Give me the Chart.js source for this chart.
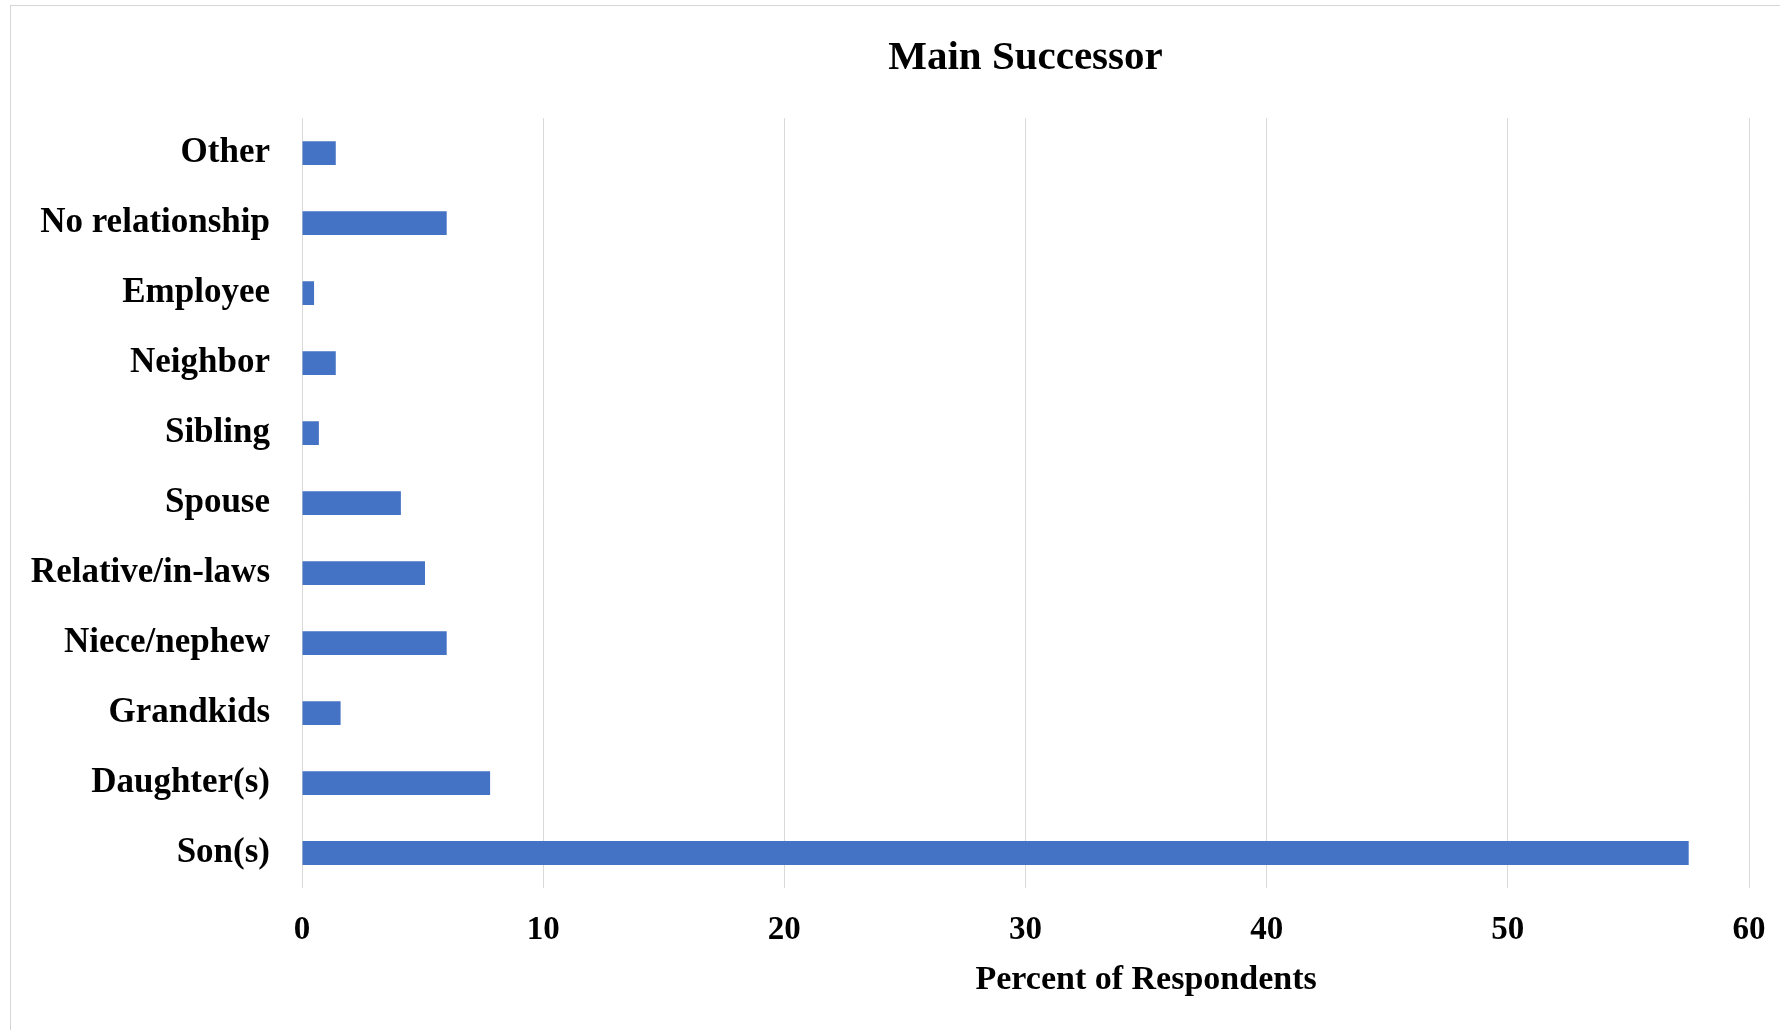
<!DOCTYPE html>
<html>
<head>
<meta charset="utf-8">
<title>Main Successor</title>
<script src="https://cdn.jsdelivr.net/npm/chart.js@4/dist/chart.umd.min.js"></script>
<style>
  html, body { margin: 0; padding: 0; background: #ffffff; overflow: hidden; }
  #wrap { position: relative; width: 1780px; height: 1030px; }
  #frame {
    position: absolute; left: 10px; top: 5px; width: 1800px; height: 1100px;
    border-top: 1px solid #d6d6d6; border-left: 1px solid #d6d6d6;
    pointer-events: none;
  }
  canvas { position: absolute; left: 0; top: 0; }
</style>
</head>
<body>
<div id="wrap">
  <canvas id="chart" width="1780" height="1030"></canvas>
  <div id="frame"></div>
</div>
<script>
// Successor categories, listed bottom to top as they appear on the axis
const categories = [
  'Son(s)', 'Daughter(s)', 'Grandkids', 'Niece/nephew', 'Relative/in-laws',
  'Spouse', 'Sibling', 'Neighbor', 'Employee', 'No relationship', 'Other'
];

// Percent of respondents naming each successor
const percentValues = [57.5, 7.8, 1.6, 6.0, 5.1, 4.1, 0.7, 1.4, 0.5, 6.0, 1.4];

// Value axis ticks
const axisTicks = [0, 10, 20, 30, 40, 50, 60];

const chartTitle = 'Main Successor';
const valueAxisTitle = 'Percent of Respondents';

const SERIF = '"Liberation Serif", "Times New Roman", Times, serif';
const BAR_BLUE = '#4472C4';
const GRID_GREY = '#d9d9d9';

// Axis title under the value axis, centred around the 35 mark
const valueAxisTitlePlugin = {
  id: 'valueAxisTitle',
  afterDraw(chart) {
    const x = chart.scales.x;
    const ctx = chart.ctx;
    ctx.save();
    ctx.font = 'bold 34px ' + SERIF;
    ctx.fillStyle = '#000000';
    ctx.textAlign = 'center';
    ctx.textBaseline = 'middle';
    ctx.fillText(valueAxisTitle, x.getPixelForValue(35), chart.chartArea.bottom + 92);
    ctx.restore();
  }
};

new Chart(document.getElementById('chart'), {
  type: 'bar',
  data: {
    labels: categories,
    datasets: [{
      data: percentValues,
      backgroundColor: BAR_BLUE,
      borderWidth: 0,
      barPercentage: 0.34,
      categoryPercentage: 1.0
    }]
  },
  plugins: [valueAxisTitlePlugin],
  options: {
    indexAxis: 'y',
    responsive: false,
    animation: false,
    layout: { padding: { left: 20, right: 31, top: 0, bottom: 0 } },
    plugins: {
      legend: { display: false },
      tooltip: { enabled: false },
      title: {
        display: true,
        fullSize: false,
        text: chartTitle,
        color: '#000000',
        font: { family: SERIF, size: 41, weight: 'bold', lineHeight: 1.2 },
        padding: { top: 34, bottom: 35 }
      }
    },
    scales: {
      x: {
        type: 'linear',
        min: 0,
        max: 60,
        afterBuildTicks(scale) {
          scale.ticks = axisTicks.map(v => ({ value: v }));
        },
        afterFit(scale) {
          scale.height = 142;
          scale.paddingLeft = 0;
          scale.paddingRight = 0;
        },
        grid: {
          color: GRID_GREY,
          lineWidth: 1,
          drawTicks: false
        },
        border: { display: false },
        ticks: {
          color: '#000000',
          padding: 23,
          font: { family: SERIF, size: 33, weight: 'bold' }
        }
      },
      y: {
        reverse: true,
        afterFit(scale) { scale.width = 282; },
        grid: { display: false, drawTicks: false },
        border: { display: false },
        ticks: {
          color: '#000000',
          padding: 32,
          font: { family: SERIF, size: 35, weight: 'bold' }
        }
      }
    }
  }
});
</script>
</body>
</html>
